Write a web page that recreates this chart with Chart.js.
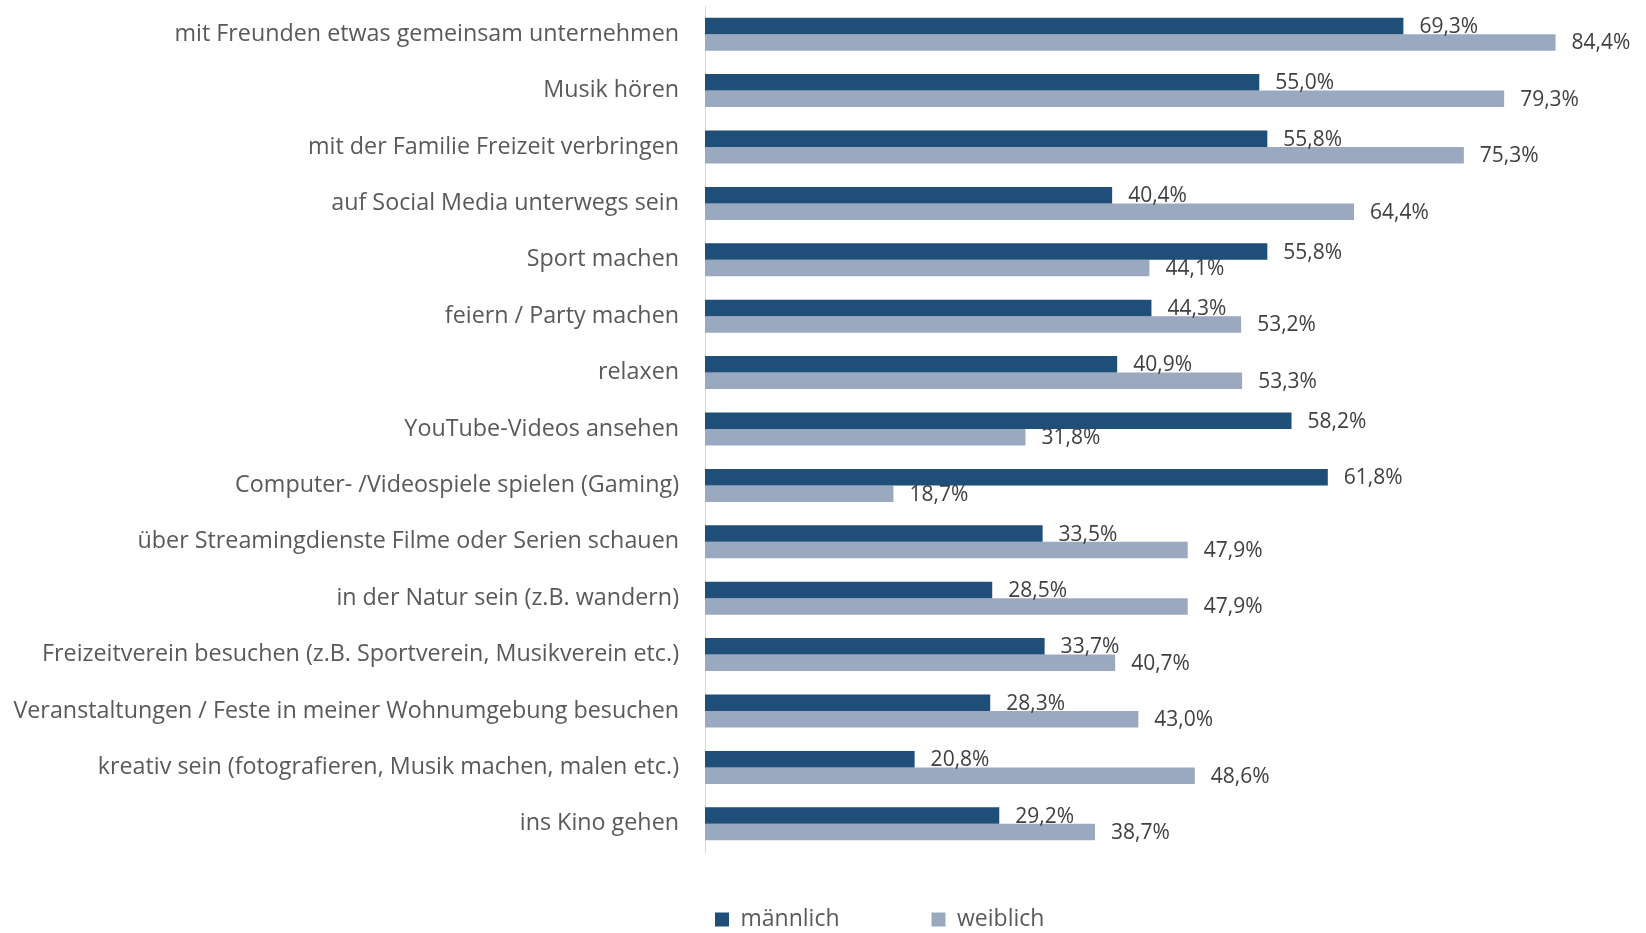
<!DOCTYPE html>
<html lang="de">
<head>
<meta charset="utf-8">
<title>Freizeitaktivitäten nach Geschlecht</title>
<script src="https://cdn.jsdelivr.net/npm/chart.js@4"></script>
<style>
  html, body { margin: 0; padding: 0; background: #fff; }
  #wrap { width: 1646px; height: 933px; }
</style>
</head>
<body>
<div id="wrap"><canvas id="freizeitChart" width="1646" height="933"></canvas></div>
<script>
// Kategorien und Werte (%)
var kategorien = [
  'mit Freunden etwas gemeinsam unternehmen',
  'Musik hören',
  'mit der Familie Freizeit verbringen',
  'auf Social Media unterwegs sein',
  'Sport machen',
  'feiern / Party machen',
  'relaxen',
  'YouTube-Videos ansehen',
  'Computer- /Videospiele spielen (Gaming)',
  'über Streamingdienste Filme oder Serien schauen',
  'in der Natur sein (z.B. wandern)',
  'Freizeitverein besuchen (z.B. Sportverein, Musikverein etc.)',
  'Veranstaltungen / Feste in meiner Wohnumgebung besuchen',
  'kreativ sein (fotografieren, Musik machen, malen etc.)',
  'ins Kino gehen'
];
var maennlich = [69.3, 55.0, 55.8, 40.4, 55.8, 44.3, 40.9, 58.2, 61.8, 33.5, 28.5, 33.7, 28.3, 20.8, 29.2];
var weiblich = [84.4, 79.3, 75.3, 64.4, 44.1, 53.2, 53.3, 31.8, 18.7, 47.9, 47.9, 40.7, 43.0, 48.6, 38.7];

var schrift = "'Open Sans', 'DejaVu Sans', sans-serif";

// Prozentwerte rechts neben die Balken schreiben
var wertLabels = {
  id: 'wertLabels',
  afterDatasetsDraw: function(chart) {
    var ctx = chart.ctx;
    ctx.save();
    ctx.font = '21px ' + schrift;
    ctx.fillStyle = '#404040';
    ctx.textAlign = 'left';
    ctx.textBaseline = 'middle';
    chart.data.datasets.forEach(function(ds, i) {
      chart.getDatasetMeta(i).data.forEach(function(bar, j) {
        var txt = ds.data[j].toFixed(1).replace('.', ',') + '%';
        ctx.fillText(txt, bar.x + 16, bar.y + 1);
      });
    });
    ctx.restore();
  }
};

// Legende unter dem Diagramm platzieren
var legendePos = {
  id: 'legendePos',
  afterUpdate: function(chart) {
    var lg = chart.legend;
    if (!lg || !lg.legendHitBoxes || !lg.legendHitBoxes.length) return;
    var dx = 715 - lg.legendHitBoxes[0].left;
    var pad = lg.options.labels.padding;
    var dy = (919 - 11 - pad) - lg.top;
    lg.left += dx; lg.right += dx;
    lg.top += dy;
    lg.bottom = chart.height;
  }
};

var freizeitChart = new Chart(document.getElementById('freizeitChart').getContext('2d'), {
  type: 'bar',
  data: {
    labels: kategorien,
    datasets: [{
      label: 'männlich',
      data: maennlich,
      backgroundColor: '#1F4E79',
      borderWidth: 0,
      categoryPercentage: 0.585,
      barPercentage: 1
    }, {
      label: 'weiblich',
      data: weiblich,
      backgroundColor: '#9AA9BF',
      borderWidth: 0,
      categoryPercentage: 0.585,
      barPercentage: 1
    }]
  },
  options: {
    indexAxis: 'y',
    responsive: false,
    animation: false,
    layout: {
      padding: { top: 6, right: 34, bottom: 45, left: 0 }
    },
    scales: {
      x: {
        display: false,
        min: 0,
        max: 90
      },
      y: {
        grid: { display: false, drawTicks: false },
        border: { display: true, color: '#D9D9D9', width: 1 },
        ticks: {
          color: '#595959',
          padding: 26,
          font: { family: schrift, size: 23.3 }
        },
        afterFit: function(scale) {
          scale.width = 705;
          scale.paddingTop = 0;
          scale.paddingBottom = 0;
        }
      }
    },
    plugins: {
      legend: {
        position: 'bottom',
        maxHeight: 36,
        labels: {
          boxWidth: 14,
          boxHeight: 14,
          padding: 92,
          color: '#595959',
          font: { family: schrift, size: 23 }
        }
      },
      tooltip: { enabled: false }
    }
  },
  plugins: [wertLabels, legendePos]
});
</script>
</body>
</html>
